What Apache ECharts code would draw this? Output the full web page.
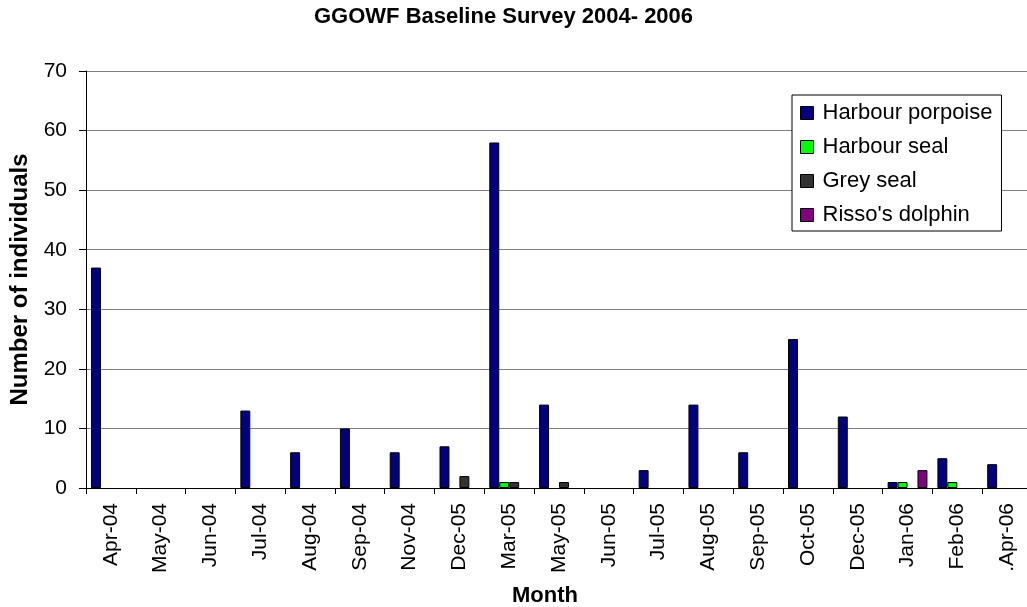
<!DOCTYPE html>
<html>
<head>
<meta charset="utf-8">
<title>GGOWF Baseline Survey 2004- 2006</title>
<script src="https://cdn.jsdelivr.net/npm/echarts@6/dist/echarts.min.js"></script>
<style>
  html, body { margin: 0; padding: 0; background: #fff; }
  #chart { width: 1027px; height: 607px; }
</style>
</head>
<body>
<div id="chart"></div>
<script>
// Survey months (x axis categories)
const months = ['Apr-04', 'May-04', 'Jun-04', 'Jul-04', 'Aug-04', 'Sep-04', 'Nov-04', 'Dec-05',
  'Mar-05', 'May-05', 'Jun-05', 'Jul-05', 'Aug-05', 'Sep-05', 'Oct-05', 'Dec-05',
  'Jan-06', 'Feb-06', '.Apr-06'];

// Individuals counted per month (null = none recorded)
const harbourPorpoise = [37, null, null, 13, 6, 10, 6, 7, 58, 14, null, 3, 14, 6, 25, 12, 1, 5, 4];
const harbourSeal     = [null, null, null, null, null, null, null, null, 1, null, null, null, null, null, null, null, 1, 1, null];
const greySeal        = [null, null, null, null, null, null, null, 2, 1, 1, null, null, null, null, null, null, null, null, null];
const rissosDolphin   = [null, null, null, null, null, null, null, null, null, null, null, null, null, null, null, null, 3, null, null];

// Y axis ticks
const yTicks = [0, 10, 20, 30, 40, 50, 60, 70];

const FONT = 'Arial, "Liberation Sans", sans-serif';

const seriesDefs = [
  { name: 'Harbour porpoise', data: harbourPorpoise, color: '#000080' },
  { name: 'Harbour seal', data: harbourSeal, color: '#00FF00' },
  { name: 'Grey seal', data: greySeal, color: '#333333' },
  { name: "Risso's dolphin", data: rissosDolphin, color: '#800080' }
];

const chart = echarts.init(document.getElementById('chart'), null, { renderer: 'canvas' });

chart.setOption({
  animation: false,
  backgroundColor: '#ffffff',
  textStyle: { fontFamily: FONT, color: '#000' },
  title: {
    text: 'GGOWF Baseline Survey 2004- 2006',
    left: 314,
    top: 6,
    padding: 0,
    textStyle: { fontFamily: FONT, fontSize: 22, fontWeight: 'bold', color: '#000' }
  },
  legend: {
    orient: 'vertical',
    left: 792,
    top: 95,
    padding: [7, 9, 5, 8],
    itemGap: 12,
    itemWidth: 13,
    itemHeight: 13,
    icon: 'rect',
    backgroundColor: '#ffffff',
    borderColor: '#000000',
    borderWidth: 1,
    borderRadius: 0,
    selectedMode: false,
    itemStyle: { borderColor: '#000', borderWidth: 1 },
    textStyle: { fontFamily: FONT, fontSize: 22, color: '#000', padding: [0, 0, 0, 4] },
    data: seriesDefs.map(s => s.name)
  },
  grid: {
    left: 86,
    top: 71,
    width: 946,
    height: 417,
    containLabel: false,
    outerBoundsMode: 'none'
  },
  xAxis: {
    type: 'category',
    data: months,
    boundaryGap: true,
    name: 'Month',
    nameLocation: 'middle',
    nameGap: 97,
    nameTextStyle: { fontFamily: FONT, fontSize: 22, fontWeight: 'bold', color: '#000', padding: [0, 28, 0, 0] },
    axisLine: { show: true, lineStyle: { color: '#000', width: 1 } },
    axisTick: { show: true, alignWithLabel: false, length: 6, lineStyle: { color: '#000', width: 1 } },
    axisLabel: {
      interval: 0,
      rotate: 90,
      margin: 15,
      fontFamily: FONT,
      fontSize: 21,
      color: '#000'
    },
    splitLine: { show: false }
  },
  yAxis: {
    type: 'value',
    min: yTicks[0],
    max: yTicks[yTicks.length - 1],
    interval: yTicks[1] - yTicks[0],
    name: 'Number of individuals',
    nameLocation: 'middle',
    nameGap: 53,
    nameRotate: 90,
    nameTextStyle: { fontFamily: FONT, fontSize: 24, fontWeight: 'bold', color: '#000' },
    axisLine: { show: true, lineStyle: { color: '#000', width: 1 } },
    axisTick: { show: true, length: 7, lineStyle: { color: '#000', width: 1 } },
    axisLabel: { margin: 19, fontFamily: FONT, fontSize: 21, color: '#000' },
    splitLine: { show: true, lineStyle: { color: '#808080', width: 1 } }
  },
  series: seriesDefs.map(s => ({
    name: s.name,
    type: 'bar',
    data: s.data,
    barGap: '0%',
    barCategoryGap: '20%',
    itemStyle: { color: s.color, borderColor: '#000', borderWidth: 1 },
    emphasis: { disabled: true }
  }))
});
</script>
</body>
</html>
